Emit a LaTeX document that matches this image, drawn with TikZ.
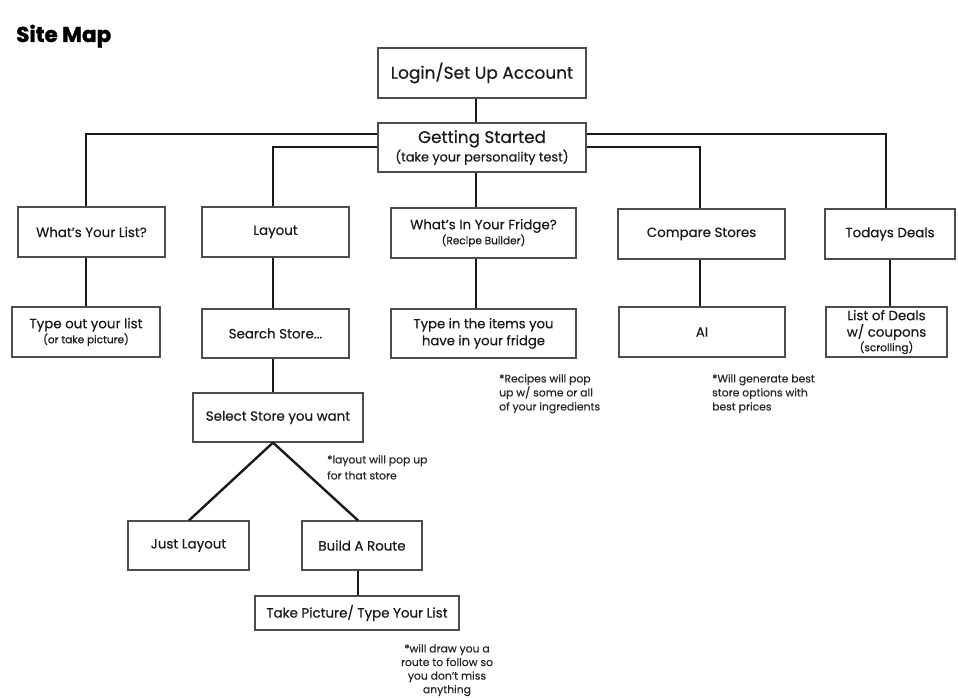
\documentclass[tikz,border=0pt]{standalone}
\usepackage{fontspec}
\setmainfont{Poppins}[FakeBold=0.35]
\newfontfamily\titlefont{Poppins}[BoldFeatures={FakeBold=1.5}]
\begin{document}
\begin{tikzpicture}[x=1pt,y=-1pt,
  box/.style={draw=black!70,line width=1.2pt,fill=white,align=center,inner sep=0pt,text=black!90},
  conn/.style={line width=2.4pt,draw=black!90},
  big/.style={font=\fontsize{17}{19}\selectfont},
  mid/.style={font=\fontsize{13.4}{16}\selectfont},
  note/.style={font=\fontsize{10.8}{14}\selectfont,inner sep=0pt,text=black!85}]
\useasboundingbox (0,0) rectangle (958,698);
\clip (0,0) rectangle (958,698);
\fill[white] (0,0) rectangle (958,698);
\node[anchor=base west,inner sep=0pt,font=\fontsize{21.5}{24}\titlefont\bfseries] (title) at (16,42) {Site Map};
% boxes
\node[box,big,minimum width=208pt,minimum height=50pt] (login) at (482,73) {Login/Set Up Account};
\node[box,font=\fontsize{16.8}{18.5}\selectfont,minimum width=208pt,minimum height=49pt] (gs) at (482,147.5) {Getting Started\\{\fontsize{12.8}{13}\selectfont (take your personality test)}};
\node[box,mid,minimum width=147pt,minimum height=50pt] (wl) at (91.5,232) {What’s Your List?};
\node[box,mid,minimum width=147pt,minimum height=50pt] (lay) at (275.5,232) {Layout};
\node[box,font=\fontsize{13.4}{15}\selectfont,minimum width=185pt,minimum height=50pt] (fr) at (483.5,233) {What’s In Your Fridge?\\{\fontsize{10.5}{11}\selectfont (Recipe Builder)}};
\node[box,mid,minimum width=167pt,minimum height=50pt] (cs) at (701.5,234) {Compare Stores};
\node[box,mid,minimum width=130pt,minimum height=50pt] (td) at (890,234) {Todays Deals};
\node[box,font=\fontsize{13.4}{15}\selectfont,minimum width=148pt,minimum height=50pt] (to) at (86,332) {Type out your list\\{\fontsize{10.5}{11}\selectfont (or take picture)}};
\node[box,mid,minimum width=147pt,minimum height=49pt] (ss) at (275.5,333.5) {Search Store...};
\node[box,font=\fontsize{13.2}{17}\selectfont,minimum width=185pt,minimum height=49pt] (ti) at (483.5,333.5) {Type in the items you\\have in your fridge};
\node[box,font=\fontsize{13.4}{16.5}\selectfont,minimum width=121pt,minimum height=50pt] (ld) at (886.5,332) {List of Deals\\w/ coupons\\[-2pt]{\fontsize{10.5}{11}\selectfont (scrolling)}};
\node[box,mid,minimum width=166pt,minimum height=50pt] (ai) at (702,332) {AI};
\node[box,mid,minimum width=170pt,minimum height=49pt] (sel) at (278,417.5) {Select Store you want};
\node[box,mid,minimum width=121pt,minimum height=49pt] (jl) at (188.5,545.5) {Just Layout};
\node[box,mid,minimum width=120pt,minimum height=49pt] (br) at (362,545.5) {Build A Route};
\node[box,mid,minimum width=204pt,minimum height=34pt] (tp) at (357,613) {Take Picture/ Type Your List};
% notes
\node[note,anchor=north west,align=left] (n1) at (499,374) {*Recipes will pop\\up w/ some or all\\of your ingredients};
\node[note,anchor=north west,align=left] (n2) at (712,374) {*Will generate best\\store options with\\best prices};
\node[note,anchor=north west,align=left,font=\fontsize{10.8}{16}\selectfont] (n3) at (327,455) {*layout will pop up\\for that store};
\node[note,anchor=north,align=center,font=\fontsize{10.8}{13.6}\selectfont] (n4) at (447,644) {*will draw you a\\route to follow so\\you don’t miss\\anything};
% connectors
\draw[conn] ([xshift=-6pt]login.south) -- ([xshift=-6pt]gs.north);
\draw[conn] ([yshift=13.5pt]gs.west) -| ([xshift=-5.5pt]wl.north);
\draw[conn] ([yshift=0.5pt]gs.west) -| ([xshift=-2.5pt]lay.north);
\draw[conn] ([yshift=13.5pt]gs.east) -| ([xshift=-4pt]td.north);
\draw[conn] ([yshift=0.5pt]gs.east) -| ([xshift=-1.5pt]cs.north);
\draw[conn] ([xshift=-6pt]gs.south) -- ([xshift=-7.5pt]fr.north);
\draw[conn] ([xshift=-5.5pt]wl.south) -- (to.north);
\draw[conn] ([xshift=-2.5pt]lay.south) -- ([xshift=-2.5pt]ss.north);
\draw[conn] ([xshift=-7.5pt]fr.south) -- ([xshift=-7.5pt]ti.north);
\draw[conn] ([xshift=-1.5pt]cs.south) -- ([xshift=-2pt]ai.north);
\draw[conn] (td.south) -- ([xshift=3.5pt]ld.north);
\draw[conn] ([xshift=-2.5pt]ss.south) -- ([xshift=-5pt]sel.north);
\draw[conn] ([xshift=-5pt]sel.south) -- ([xshift=0.5pt]jl.north);
\draw[conn] ([xshift=-5pt]sel.south) -- ([xshift=-4pt]br.north);
\draw[conn] ([xshift=-4pt]br.south) -- ([xshift=1pt]tp.north);
\end{tikzpicture}
\end{document}
